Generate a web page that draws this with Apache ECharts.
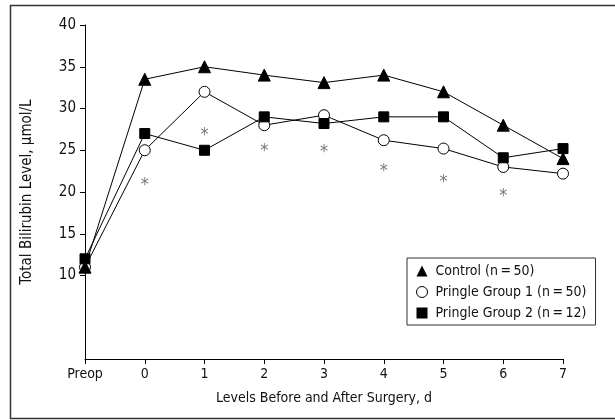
<!DOCTYPE html>
<html>
<head>
<meta charset="utf-8">
<script src="https://cdn.jsdelivr.net/npm/echarts@6/dist/echarts.min.js"></script>
<style>
  html, body { margin: 0; padding: 0; background: #fff; }
  #chart { width: 615px; height: 420px; }
</style>
</head>
<body>
<div id="chart"></div>
<script>
// days on the x axis
var days = ['Preop', '0', '1', '2', '3', '4', '5', '6', '7'];
var yTicks = [10, 15, 20, 25, 30, 35, 40];

var controlVals = [11, 33.5, 35, 34, 33.1, 34, 32, 28, 24];
var pringle1Vals = [11, 25, 32, 28, 29.2, 26.2, 25.2, 23, 22.2];
var pringle2Vals = [12, 27, 25, 29, 28.2, 29, 29, 24.1, 25.2];
// asterisk positions (significance marks)
var starVals = [null, 21.3, 27.3, 25.3, 25.2, 22.9, 21.6, 20, null];

var names = ['Control (n\u2009=\u200950)', 'Pringle Group 1 (n\u2009=\u200950)', 'Pringle Group 2 (n\u2009=\u200912)'];

var font = "'DejaVu Sans Condensed', 'Liberation Sans Narrow', Arial, sans-serif";

var chart = echarts.init(document.getElementById('chart'), null, { renderer: 'canvas' });

function lineSeries(name, data, symbol, size, fill) {
    return {
        name: name,
        type: 'line',
        data: data,
        symbol: symbol,
        symbolSize: size,
        showSymbol: true,
        lineStyle: { color: '#000', width: 1 },
        itemStyle: { color: fill, borderColor: '#000', borderWidth: 1 },
        emphasis: { disabled: true }
    };
}

chart.setOption({
    animation: false,
    graphic: [{
        type: 'rect',
        shape: { x: 10.5, y: 5.5, width: 700, height: 413 },
        style: { fill: 'none', stroke: '#333', lineWidth: 1.5 },
        silent: true
    }],
    grid: { left: 85, right: 52, top: 25, bottom: 61 },
    legend: {
        orient: 'vertical',
        left: 407,
        top: 258,
        padding: [6, 9, 5, 9],
        itemGap: 7,
        itemWidth: 11,
        itemHeight: 11,
        backgroundColor: '#fff',
        borderColor: '#333',
        borderWidth: 1,
        textStyle: { fontFamily: font, fontSize: 14, color: '#111', padding: [0, 0, 0, 3] },
        data: [
            { name: names[0], icon: 'triangle', itemStyle: { color: '#000', borderWidth: 0 } },
            { name: names[1], icon: 'circle', itemStyle: { color: '#fff', borderColor: '#000', borderWidth: 1 } },
            { name: names[2], icon: 'rect', itemStyle: { color: '#000', borderWidth: 0 } }
        ]
    },
    xAxis: {
        type: 'category',
        data: days,
        boundaryGap: false,
        name: 'Levels Before and After Surgery, d',
        nameLocation: 'middle',
        nameGap: 32,
        nameTextStyle: { fontFamily: font, fontSize: 14, color: '#111' },
        axisLine: { lineStyle: { color: '#000', width: 1 } },
        axisTick: { show: true, length: 5, alignWithLabel: true, lineStyle: { color: '#000' } },
        axisLabel: { fontFamily: font, fontSize: 14, color: '#111', margin: 8 },
        splitLine: { show: false }
    },
    yAxis: {
        type: 'value',
        min: 0,
        max: 40,
        interval: 5,
        name: 'Total Bilirubin Level, \u00b5mol/L',
        nameLocation: 'middle',
        nameGap: 50,
        nameTextStyle: { fontFamily: font, fontSize: 15, color: '#111' },
        axisLine: { show: true, lineStyle: { color: '#000', width: 1 } },
        axisTick: { show: true, length: 5, customValues: yTicks, lineStyle: { color: '#000' } },
        axisLabel: { fontFamily: font, fontSize: 15, color: '#111', margin: 9, customValues: yTicks },
        splitLine: { show: false }
    },
    series: [
        lineSeries(names[1], pringle1Vals, 'circle', 11, '#fff'),
        lineSeries(names[2], pringle2Vals, 'rect', 10, '#000'),
        lineSeries(names[0], controlVals, 'triangle', 12, '#000'),
        {
            name: 'stars',
            type: 'scatter',
            data: starVals,
            symbol: 'circle',
            symbolSize: 1,
            itemStyle: { color: 'rgba(0,0,0,0)' },
            label: {
                show: true,
                position: 'inside',
                formatter: '*',
                fontFamily: font,
                fontSize: 18,
                color: '#555',
                offset: [0, 4]
            },
            emphasis: { disabled: true },
            silent: true
        }
    ]
});
</script>
</body>
</html>
